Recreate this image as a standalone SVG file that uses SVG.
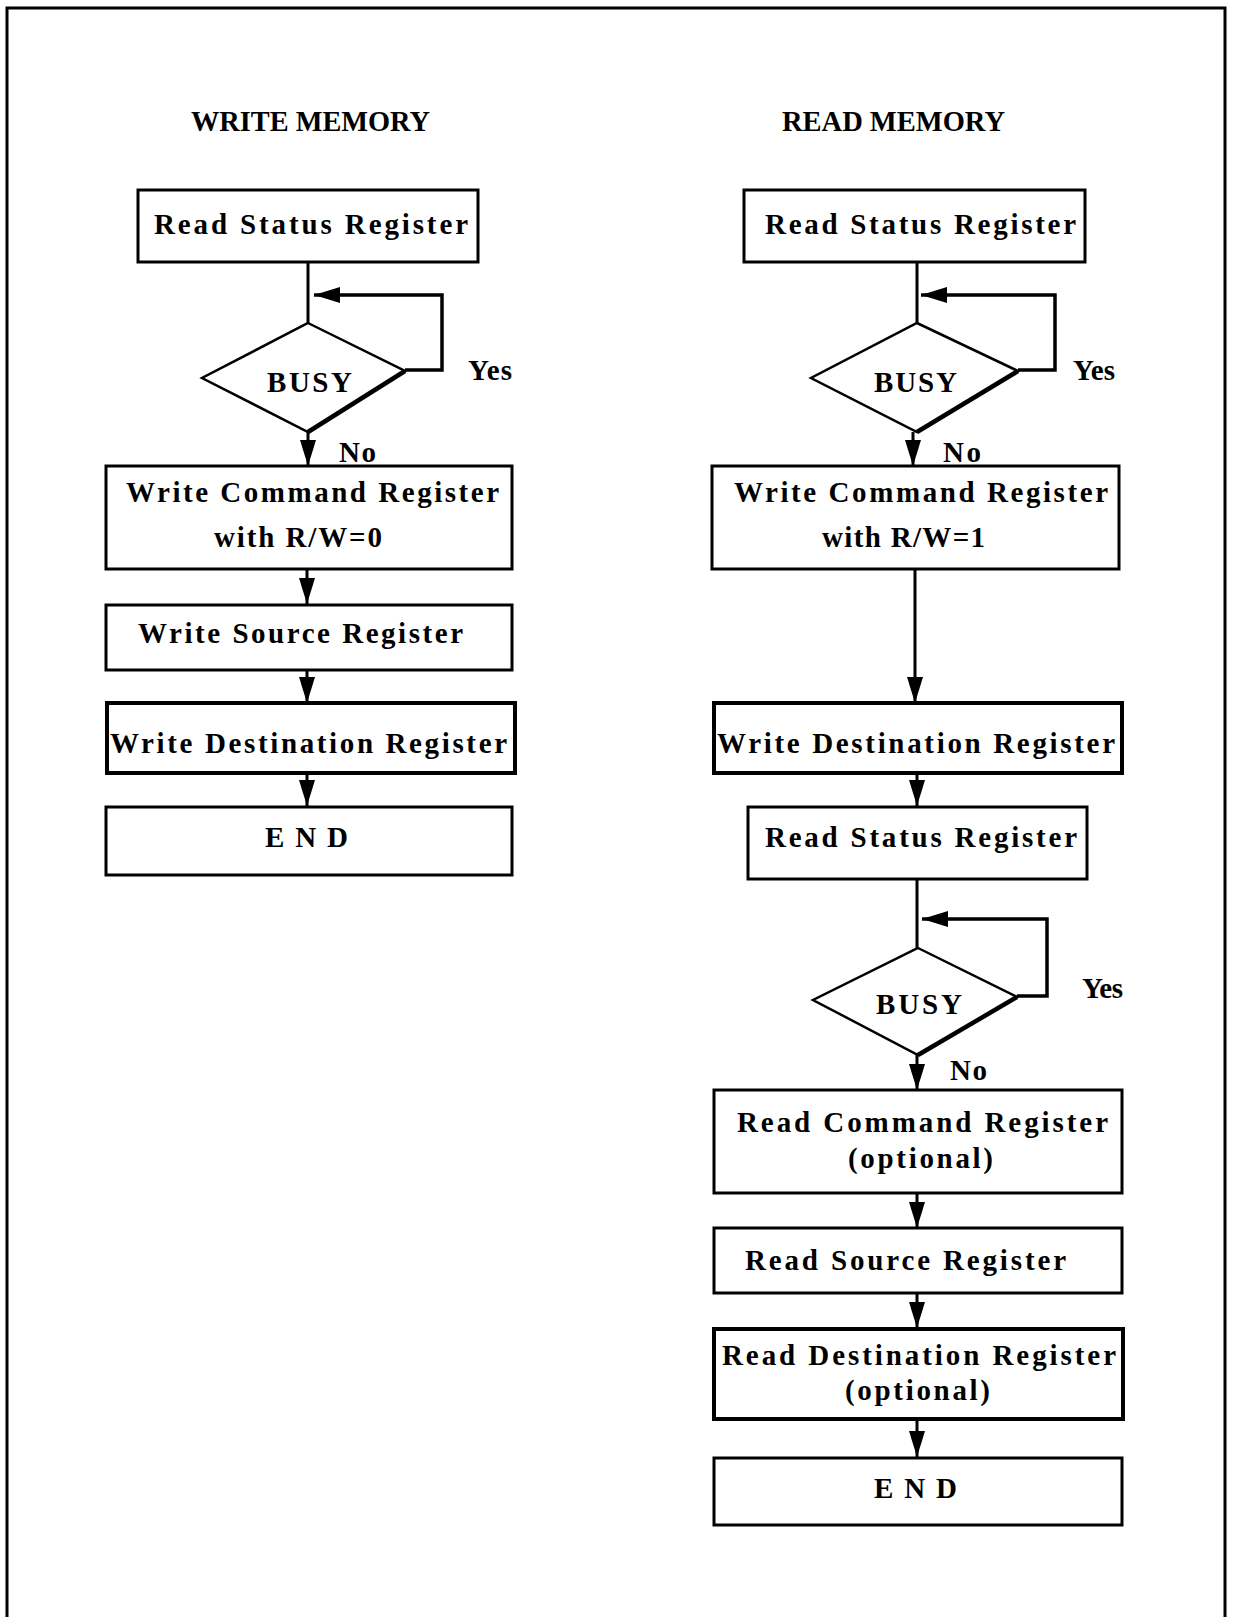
<svg xmlns="http://www.w3.org/2000/svg" width="1233" height="1617" viewBox="0 0 1233 1617">
<style>
text{font-family:"Liberation Serif","Times New Roman",serif;font-weight:bold;font-size:29px;fill:#000}
.t{font-size:30px}
.lbl{font-size:29px}
.box{fill:#fff;stroke:#000;stroke-width:3}
.thick{stroke-width:4}
.dia{fill:#fff;stroke:#000;stroke-width:2.5;stroke-linejoin:miter}
.sh{fill:none;stroke:#000;stroke-width:4.5}
.c{fill:none;stroke:#000;stroke-width:3}
.loop{fill:none;stroke:#000;stroke-width:3.5}
</style>
<defs>
<marker id="ah" markerUnits="userSpaceOnUse" markerWidth="26" markerHeight="16" refX="26" refY="8" orient="auto"><path d="M0,0 L26,8 L0,16 z" fill="#000"/></marker>
</defs>
<rect x="0" y="0" width="1233" height="1617" fill="#fff"/>
<rect x="7" y="8" width="1218" height="1640" fill="none" stroke="#000" stroke-width="3"/>
<text class="t" x="191" y="131" textLength="239" lengthAdjust="spacingAndGlyphs">WRITE MEMORY</text>
<text class="t" x="782" y="131" textLength="223" lengthAdjust="spacingAndGlyphs">READ MEMORY</text>

<g id="connectors">
<line class="c" x1="308" y1="262" x2="308" y2="323"/>
<polyline class="loop" points="405,370 442,370 442,295 314,295" marker-end="url(#ah)"/>
<line class="c" x1="308" y1="432" x2="308" y2="466" marker-end="url(#ah)"/>
<line class="c" x1="307" y1="569" x2="307" y2="604" marker-end="url(#ah)"/>
<line class="c" x1="307" y1="670" x2="307" y2="703" marker-end="url(#ah)"/>
<line class="c" x1="307" y1="773" x2="307" y2="806" marker-end="url(#ah)"/>

<line class="c" x1="917" y1="262" x2="917" y2="323"/>
<polyline class="loop" points="1018,370 1055,370 1055,295 921,295" marker-end="url(#ah)"/>
<line class="c" x1="913" y1="432" x2="913" y2="466" marker-end="url(#ah)"/>
<line class="c" x1="915" y1="569" x2="915" y2="703" marker-end="url(#ah)"/>
<line class="c" x1="917" y1="773" x2="917" y2="806" marker-end="url(#ah)"/>
<line class="c" x1="917" y1="879" x2="917" y2="948"/>
<polyline class="loop" points="1017,996 1047,996 1047,919 922,919" marker-end="url(#ah)"/>
<line class="c" x1="917" y1="1055" x2="917" y2="1090" marker-end="url(#ah)"/>
<line class="c" x1="917" y1="1193" x2="917" y2="1228" marker-end="url(#ah)"/>
<line class="c" x1="917" y1="1293" x2="917" y2="1328" marker-end="url(#ah)"/>
<line class="c" x1="917" y1="1419" x2="917" y2="1457" marker-end="url(#ah)"/>
</g>

<g id="w_read_status">
<rect class="box" x="138" y="190" width="340" height="72"/>
<text x="154" y="234" textLength="314" lengthAdjust="spacing">Read Status Register</text>
</g>
<g id="w_busy">
<polygon class="dia" points="308,323 405,371 308,432 202,378"/>
<polyline class="sh" points="405,371 308,432"/>
<text x="267" y="392" textLength="85" lengthAdjust="spacing">BUSY</text>
</g>
<g id="w_labels">
<text class="lbl" x="468" y="380" textLength="44" lengthAdjust="spacing">Yes</text>
<text class="lbl" x="339" y="462" textLength="37" lengthAdjust="spacing">No</text>
</g>
<g id="w_cmd">
<rect class="box" x="106" y="466" width="406" height="103"/>
<text x="126" y="502" textLength="373" lengthAdjust="spacing">Write Command Register</text>
<text x="214" y="547" textLength="168" lengthAdjust="spacing">with R/W=0</text>
</g>
<g id="w_src">
<rect class="box" x="106" y="605" width="406" height="65"/>
<text x="138" y="643" textLength="325" lengthAdjust="spacing">Write Source Register</text>
</g>
<g id="w_dst">
<rect class="box thick" x="107" y="703" width="408" height="70"/>
<text x="110" y="753" textLength="397" lengthAdjust="spacing">Write Destination Register</text>
</g>
<g id="w_end">
<rect class="box" x="106" y="807" width="406" height="68"/>
<text x="265" y="847" textLength="83" lengthAdjust="spacing">E N D</text>
</g>

<g id="r_read_status">
<rect class="box" x="744" y="190" width="341" height="72"/>
<text x="765" y="234" textLength="311" lengthAdjust="spacing">Read Status Register</text>
</g>
<g id="r_busy">
<polygon class="dia" points="917,323 1018,371 917,432 811,378"/>
<polyline class="sh" points="1018,371 917,432"/>
<text x="874" y="392" textLength="83" lengthAdjust="spacing">BUSY</text>
</g>
<g id="r_labels">
<text class="lbl" x="1073" y="380" textLength="42" lengthAdjust="spacing">Yes</text>
<text class="lbl" x="943" y="462" textLength="38" lengthAdjust="spacing">No</text>
</g>
<g id="r_cmd">
<rect class="box" x="712" y="466" width="407" height="103"/>
<text x="734" y="502" textLength="374" lengthAdjust="spacing">Write Command Register</text>
<text x="822" y="547" textLength="163" lengthAdjust="spacing">with R/W=1</text>
</g>
<g id="r_dst">
<rect class="box thick" x="714" y="703" width="408" height="70"/>
<text x="717" y="753" textLength="398" lengthAdjust="spacing">Write Destination Register</text>
</g>
<g id="r_read_status2">
<rect class="box" x="748" y="807" width="339" height="72"/>
<text x="765" y="847" textLength="312" lengthAdjust="spacing">Read Status Register</text>
</g>
<g id="r_busy2">
<polygon class="dia" points="918,948 1017,997 918,1055 813,1000"/>
<polyline class="sh" points="1017,997 918,1055"/>
<text x="876" y="1014" textLength="86" lengthAdjust="spacing">BUSY</text>
</g>
<g id="r_labels2">
<text class="lbl" x="1082" y="998" textLength="41" lengthAdjust="spacing">Yes</text>
<text class="lbl" x="950" y="1080" textLength="37" lengthAdjust="spacing">No</text>
</g>
<g id="r_rcmd">
<rect class="box" x="714" y="1090" width="408" height="103"/>
<text x="737" y="1132" textLength="371" lengthAdjust="spacing">Read Command Register</text>
<text x="848" y="1168" textLength="145" lengthAdjust="spacing">(optional)</text>
</g>
<g id="r_rsrc">
<rect class="box" x="714" y="1228" width="408" height="65"/>
<text x="745" y="1270" textLength="321" lengthAdjust="spacing">Read Source Register</text>
</g>
<g id="r_rdst">
<rect class="box thick" x="714" y="1329" width="409" height="90"/>
<text x="722" y="1365" textLength="394" lengthAdjust="spacing">Read Destination Register</text>
<text x="845" y="1400" textLength="145" lengthAdjust="spacing">(optional)</text>
</g>
<g id="r_end">
<rect class="box" x="714" y="1458" width="408" height="67"/>
<text x="874" y="1498" textLength="83" lengthAdjust="spacing">E N D</text>
</g>
</svg>
